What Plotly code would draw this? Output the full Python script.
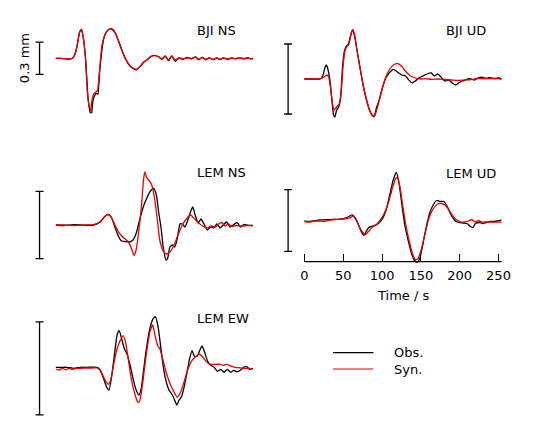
import plotly.graph_objects as go

# ---------------- data (time in s, amplitude in arbitrary units) ----------------
bji_ns_obs_t = [0.0, 6.3, 12.7, 16.9, 21.2, 24.1, 27.5, 30.5, 33.0, 35.1, 38.1, 41.5, 43.6, 45.7, 47.4, 49.5,
                52.0, 54.1, 56.3, 60.5, 63.5, 67.7, 71.9, 76.1, 80.4, 84.6, 88.8, 93.0, 97.3, 103.6, 108.7,
                112.9, 118.4, 122.7, 126.9, 132.4, 136.6, 140.9, 145.1, 149.3, 153.6, 158.6, 163.7, 169.2,
                174.7, 179.8, 184.0, 189.1, 193.3, 197.5, 203.0, 207.3, 211.5, 215.7, 220.8, 226.3, 231.4,
                236.9, 242.0, 247.5, 251.7, 253.8]
bji_ns_obs_a = [0, 0, -0.5, -1, 0, 3, 13, 26, 29, 22, 1, -40, -52, -58, -44, -38,
                -35, -36, -14, 15, 24, 28.5, 29.3, 26, 18, 9, 1, -5, -9, -11.5, -8,
                -4, -1, 2, 3, 1.5, -1, 2.5, -2.5, 2.5, -3, 0.5, -1, 1,
                -0.5, 1.5, -1.3, 1, -1.5, 0.5, -1.5, 0.5, -1.3, 0.5, -1, 0.3,
                -0.5, 0.5, -0.5, 0.5, -0.8, 0]
bji_ns_syn_t = [0.0, 6.3, 12.7, 16.9, 21.2, 24.1, 27.5, 30.5, 33.0, 35.1, 38.1, 41.0, 43.6, 44.8, 46.5, 48.6,
                51.2, 53.7, 56.3, 59.2, 63.5, 67.7, 71.9, 76.1, 80.4, 84.6, 88.8, 93.0, 97.3, 103.6, 108.7,
                112.9, 118.4, 122.7, 126.9, 132.4, 136.6, 140.9, 145.1, 149.3, 153.6, 158.6, 163.7, 169.2,
                174.7, 179.8, 184.0, 189.1, 193.3, 197.5, 203.0, 207.3, 211.5, 215.7, 220.8, 226.3, 231.4,
                236.9, 242.0, 247.5, 251.7, 253.8]
bji_ns_syn_a = [0, 0, -0.3, -0.7, 0, 3, 13, 26, 29, 22, 1, -38, -50, -52, -42, -36,
                -34, -32, -12, 12, 24, 28.5, 29.3, 26, 18, 9, 1, -5, -9, -11, -8,
                -4, -1, 2, 2.7, 1.5, -0.5, 2, -1.7, 2.3, -1.5, 0.5, -0.5, 0.5,
                -0.3, 1.5, -0.8, 0.7, -1, 0.5, -1, 0.3, -1, 0.5, -0.8, 0.3,
                -0.3, 0.5, -0.2, 0.5, -0.5, 0]

bji_ud_obs_t = [0.0, 11.8, 20.3, 23.7, 26.6, 28.3, 30.5, 33.0, 35.5, 37.6, 39.3, 41.5, 44.0, 46.5, 49.1, 51.6,
                54.1, 56.7, 59.2, 61.8, 64.3, 67.7, 71.9, 76.1, 80.4, 83.8, 87.1, 89.7, 93.1, 96.4, 100.7,
                104.9, 109.1, 114.6, 119.7, 125.2, 130.3, 134.5, 138.7, 142.9, 147.2, 152.3, 157.8, 163.3,
                167.5, 171.7, 176.0, 181.0, 186.1, 190.4, 194.6, 198.8, 203.0, 207.3, 212.8, 218.3, 223.4,
                229.7, 233.9, 238.2, 244.5, 250.8, 253.8]
bji_ud_obs_a = [0, 0, 0, 3.3, 11.7, 14, 9, -2, -22, -36, -38, -31, -28, -20, 12, 28,
                33, 34, 42, 49, 44, 29, 10, -8, -22, -31, -36, -37.7, -28, -21, -8,
                1, 6, 9.7, 7, 4, 3, -1, -4, -2, 1, 3, 5, 6,
                3, 5, 2, -2, -1, -4, -6, -4, -2, -1, 0.5, -1, 1,
                1.7, 0.5, 1.5, 0.5, 1, 0]
bji_ud_syn_t = [0.0, 11.8, 20.3, 24.5, 28.8, 31.3, 33.8, 36.4, 38.5, 41.5, 44.8, 47.4, 49.9, 52.5, 55.0, 57.5,
                60.1, 62.2, 64.7, 67.7, 71.9, 76.1, 80.4, 83.8, 87.1, 90.5, 94.8, 99.8, 104.9, 110.0, 115.5,
                120.6, 126.1, 131.1, 136.6, 143.0, 149.3, 155.7, 164.1, 172.6, 181.0, 189.5, 198.0, 206.4,
                214.9, 223.4, 231.8, 240.3, 248.7, 253.8]
bji_ud_syn_a = [0, 0, 0.3, 1.5, 4, 2, -10, -26, -31, -28, -25, -12, 14, 29, 33, 37,
                45, 49.5, 44, 29, 10, -8, -22, -31, -36, -37, -26, -11, 2, 10, 14.5,
                15.3, 12, 7, 3, 1, 0, 0.3, -0.3, 0, -0.5, -1, -1.5, -1,
                -0.5, 0.3, 0.5, 0.5, 0.3, 0]

lem_ns_obs_t = [0.0, 10.6, 23.3, 36.0, 48.6, 57.1, 63.5, 67.7, 71.9, 76.1, 80.4, 84.6, 88.8, 94.3, 99.4, 103.6,
                107.9, 112.1, 117.2, 121.8, 126.1, 129.5, 132.4, 135.4, 138.3, 141.7, 143.8, 146.8, 150.2,
                153.2, 156.5, 159.9, 162.9, 166.2, 170.0, 173.4, 176.4, 179.8, 183.2, 187.0, 190.8, 195.0,
                199.2, 203.5, 207.3, 211.5, 215.7, 220.0, 224.2, 228.4, 233.5, 237.7, 242.4, 247.5, 253.8]
lem_ns_obs_a = [0, -0.5, 0.3, -0.3, 0, 3, 8.7, 10.7, 7, -2, -11, -16, -16.5, -17, -15, -8,
                5, 17, 27, 34, 36.7, 30, 13, -2, -22, -35, -34, -22, -20,
                -22, -13, 1, 1, -2, 5, 13, 18, 9, 2, 6, 1, -5,
                -2, -3, 1, -3, 0, 3, -2, 0, 2.5, -2, 0.5, -0.3, -0.5]
lem_ns_syn_t = [0.0, 10.6, 23.3, 36.0, 48.6, 57.1, 63.5, 67.7, 71.9, 76.1, 81.6, 87.6, 93.5, 97.7, 100.7, 103.6,
                107.0, 110.4, 112.9, 114.6, 117.2, 120.6, 123.5, 126.9, 130.3, 134.1, 138.3, 142.5, 146.8,
                152.3, 157.8, 162.9, 167.9, 173.4, 178.9, 184.0, 189.1, 194.6, 200.1, 205.2, 209.4, 213.7,
                217.9, 222.1, 227.2, 232.7, 239.1, 247.5, 253.8]
lem_ns_syn_a = [0, 0, -0.5, 0, 0.3, 3.5, 9, 10.5, 7, 0, -8, -13, -17, -24, -30.5, -24,
                -5, 20, 45, 53, 47, 44, 40, 28, 8, -16, -26, -29, -27,
                -20, -9, 0, 6, 10, 6, 2, -1, -3, -1, -2, 1, 2.5,
                -1, 1, -1.5, -0.5, -1, -0.5, -0.7]

lem_ud_obs_t = [0.0, 7.6, 20.3, 37.2, 49.9, 56.3, 61.3, 65.1, 69.0, 73.2, 76.6, 79.5, 82.9, 86.3, 90.1, 95.2,
                100.7, 105.8, 110.4, 114.2, 118.4, 121.8, 125.2, 129.4, 133.7, 137.9, 142.1, 145.5, 148.9,
                152.3, 156.6, 161.2, 166.2, 170.5, 174.7, 179.8, 184.0, 188.7, 193.7, 198.8, 204.3, 209.4,
                213.7, 217.0, 220.4, 225.5, 229.7, 234.8, 239.4, 244.5, 248.7, 253.8]
lem_ud_obs_a = [-0.7, -1, 0.7, 1, 1.7, 3.5, 5.7, 3, -3, -11, -15, -11, -7, -6, -5, -3,
                2, 12, 27, 40, 48, 38, 18, -5, -20, -33, -40, -41.7, -37,
                -25, -8, 7, 16, 20, 19, 19, 14, 6, 0, -2, -2.5, -3,
                -6, -7, -3, -2, -3, -2, -1, -1, -0.5, 0.3]
lem_ud_syn_t = [0.0, 5.5, 14.0, 24.5, 37.2, 52.0, 58.4, 62.6, 66.8, 71.1, 75.3, 78.7, 82.5, 87.1, 92.2, 97.3,
                102.8, 108.3, 113.2, 117.6, 119.7, 122.7, 126.1, 130.3, 135.4, 139.6, 143.0, 146.4, 150.6,
                155.7, 160.7, 166.2, 171.7, 176.8, 181.9, 187.4, 193.7, 200.1, 206.4, 211.5, 215.7, 219.9,
                224.2, 228.4, 233.9, 240.3, 248.7, 253.8]
lem_ud_syn_a = [-1, -1.5, -0.5, -0.8, 1, 1.7, 2.5, 4.3, 0.5, -7, -12, -14, -11, -7, -4.5, 0,
                7, 18, 32, 42, 43, 35, 18, -3, -22, -34, -39, -38, -29,
                -12, 3, 12, 16.5, 17, 15, 9, 2, -1, -1.5, -0.5, 1, -1.5,
                0, -1.5, -1.5, -1.5, -1.7, -1.7]

lem_ew_obs_t = [0.0, 6.3, 14.8, 23.3, 31.7, 40.2, 52.9, 57.1, 61.3, 65.6, 68.5, 71.9, 76.1, 79.1, 81.6, 84.6,
                88.0, 91.8, 96.0, 100.3, 103.6, 107.0, 110.0, 113.0, 116.3, 120.6, 124.8, 128.2, 131.6,
                135.0, 138.3, 141.7, 145.9, 150.2, 153.6, 155.7, 158.6, 162.0, 165.4, 169.2, 172.1, 175.5,
                178.5, 181.9, 185.4, 188.3, 191.7, 195.5, 199.7, 203.9, 208.2, 212.4, 216.6, 220.8, 225.1,
                229.3, 233.5, 237.7, 241.9, 245.3, 249.6, 253.8]
lem_ew_obs_a = [1, 1, 1, 0, 1, 1, 1, -1.7, -10, -19, -21.7, -8, 18, 34, 37.7, 30,
                20, 14, 2, -13, -22, -26.7, -20, -2, 18, 38, 49, 51.7, 42,
                22, 2, -12, -22, -27, -33, -36.7, -32, -28, -18, -3, 9, 17.7,
                12, 12, 18, 22.3, 16, 7, 3, 1, -3, -1, -4, -1, -4,
                -2, -3.5, -2, 1, 2, -1, 0]
lem_ew_syn_t = [0.0, 4.2, 8.5, 12.7, 16.9, 21.2, 27.5, 35.9, 46.5, 55.0, 59.2, 63.5, 67.7, 70.6, 74.0, 78.3,
                82.5, 86.7, 90.1, 93.5, 97.3, 101.5, 104.9, 107.0, 110.0, 113.4, 117.2, 121.4, 124.8, 127.7,
                131.1, 134.1, 137.5, 141.7, 145.9, 151.0, 156.5, 160.7, 165.0, 170.0, 175.5, 180.6, 184.0,
                188.3, 193.3, 198.8, 205.2, 211.5, 215.7, 220.0, 226.3, 231.4, 236.9, 243.3, 249.6, 253.8]
lem_ew_syn_a = [-0.7, -1.7, 0, -1.5, 0, -1, 0, 0.3, 0.3, 0.3, -5, -12, -16, -12, 2, 18,
                27, 32.7, 25, 8, -11, -25, -33, -34.3, -25, -5, 18, 37, 43.3, 33,
                23, 19, 10, -3, -13, -22, -29, -24, -14, -1, 8, 12, 14.3,
                12, 7, 4, 4, 4, 3, 4, 2, 1, 0.5, 0, 0, -0.5]

station_labels = ["BJI NS", "BJI UD", "LEM NS", "LEM UD", "LEM EW"]
scale_bar_amp = [32.3, 70.0, 67.3, 61.7, 93.0]   # full length of each scale bar (same units)
time_ticks = [0, 50, 100, 150, 200, 250]
legend_names = ["Obs.", "Syn."]
scale_label = "0.3 mm"

obs_t = [bji_ns_obs_t, bji_ud_obs_t, lem_ns_obs_t, lem_ud_obs_t, lem_ew_obs_t]
obs_a = [bji_ns_obs_a, bji_ud_obs_a, lem_ns_obs_a, lem_ud_obs_a, lem_ew_obs_a]
syn_t = [bji_ns_syn_t, bji_ud_syn_t, lem_ns_syn_t, lem_ud_syn_t, lem_ew_syn_t]
syn_a = [bji_ns_syn_a, bji_ud_syn_a, lem_ns_syn_a, lem_ud_syn_a, lem_ew_syn_a]

# ---------------- layout geometry (pixels of the 539x439 target) ----------------
W, H = 539, 439
PX_PER_S = 0.788
T_MIN, T_MAX = -30, 256
BAR_T = -21
HALF_H = 55
col_t0 = {"L": 56.7, "R": 309.0}
panels = [  # column, baseline y (px), label position (px)
    ("L", 58.3, 198, 30),
    ("R", 79.0, 451, 30.5),
    ("L", 225.0, 198, 173),
    ("R", 220.5, 451, 173.5),
    ("L", 368.3, 198, 318),
]
TIME_AXIS_PANEL = 3
TIME_AXIS_Y = 261.7

FONT = "DejaVu Sans"
BLACK = "#000000"
RED = "#e60000"


def fx(px):
    return px / W


def fy(py):
    return 1 - py / H


fig = go.Figure()
layout = dict(
    width=W, height=H, margin=dict(l=0, r=0, t=0, b=0, pad=0),
    paper_bgcolor="white", plot_bgcolor="rgba(0,0,0,0)",
    showlegend=False, font=dict(family=FONT, size=13, color=BLACK),
)
shapes = []
annotations = []

for i, (col, base, lx, ly) in enumerate(panels):
    n = i + 1
    xa = "x" if n == 1 else f"x{n}"
    ya = "y" if n == 1 else f"y{n}"
    t0 = col_t0[col]
    xdom = [fx(t0 + T_MIN * PX_PER_S), fx(t0 + T_MAX * PX_PER_S)]
    ydom = [fy(base + HALF_H), fy(base - HALF_H)]
    xkey = "xaxis" if n == 1 else f"xaxis{n}"
    ykey = "yaxis" if n == 1 else f"yaxis{n}"
    xconf = dict(domain=xdom, range=[T_MIN, T_MAX], anchor=ya, showgrid=False,
                 zeroline=False, showline=False, showticklabels=False, ticks="")
    if i == TIME_AXIS_PANEL:
        xconf.update(anchor="free", position=fy(TIME_AXIS_Y), ticks="inside", ticklen=8,
                     tickwidth=1, tickcolor=BLACK, tickvals=time_ticks, showticklabels=True,
                     ticklabelstandoff=4,
                     tickfont=dict(family=FONT, size=13, color=BLACK))
        shapes.append(dict(type="line", xref=xa, yref="paper", x0=0, x1=254,
                           y0=fy(TIME_AXIS_Y), y1=fy(TIME_AXIS_Y),
                           line=dict(color=BLACK, width=1.2)))
        annotations.append(dict(text="Time / s", xref="paper", yref="paper",
                                x=fx(409), y=fy(295.5), showarrow=False,
                                xanchor="center", yanchor="middle",
                                font=dict(family=FONT, size=13, color=BLACK)))
    layout[xkey] = xconf
    layout[ykey] = dict(domain=ydom, range=[-HALF_H, HALF_H], anchor=xa, visible=False,
                        fixedrange=True)

    fig.add_trace(go.Scatter(x=obs_t[i], y=obs_a[i], xaxis=xa, yaxis=ya, mode="lines",
                             line=dict(color=BLACK, width=1.3, shape="spline", smoothing=0.5),
                             name=legend_names[0], hoverinfo="skip"))
    fig.add_trace(go.Scatter(x=syn_t[i], y=syn_a[i], xaxis=xa, yaxis=ya, mode="lines",
                             line=dict(color=RED, width=1.3, shape="spline", smoothing=0.5),
                             name=legend_names[1], hoverinfo="skip"))
    # scale bar
    fig.add_trace(go.Scatter(x=[BAR_T], y=[0], xaxis=xa, yaxis=ya, mode="markers",
                             marker=dict(size=1, opacity=0),
                             error_y=dict(type="data", array=[scale_bar_amp[i] / 2], symmetric=True,
                                          color=BLACK, thickness=1.3, width=4),
                             hoverinfo="skip"))
    annotations.append(dict(text=station_labels[i], xref="paper", yref="paper",
                            x=fx(lx), y=fy(ly), showarrow=False, xanchor="left",
                            yanchor="middle", font=dict(family=FONT, size=13, color=BLACK)))

# scale label
annotations.append(dict(text=scale_label, xref="paper", yref="paper", x=fx(25), y=fy(58.5),
                        textangle=-90, showarrow=False, xanchor="center", yanchor="middle",
                        font=dict(family=FONT, size=13, color=BLACK)))

# legend
for name, color, ly in [(legend_names[0], BLACK, 352.7), (legend_names[1], RED, 369.0)]:
    shapes.append(dict(type="line", xref="paper", yref="paper", x0=fx(338), x1=fx(379),
                       y0=fy(ly), y1=fy(ly), line=dict(color=color, width=1.2)))
    annotations.append(dict(text=name, xref="paper", yref="paper", x=fx(398), y=fy(ly),
                            showarrow=False, xanchor="left", yanchor="middle",
                            font=dict(family=FONT, size=13, color=BLACK)))

layout["shapes"] = shapes
layout["annotations"] = annotations
fig.update_layout(**layout)
fig.write_html(
    "out.html",
    config={"displayModeBar": False, "staticPlot": True},
    post_script=("document.documentElement.style.margin='0';document.body.style.margin='0';"
                 "document.body.style.padding='0';document.documentElement.style.overflow='hidden';"
                 "document.body.style.overflow='hidden';"),
)
